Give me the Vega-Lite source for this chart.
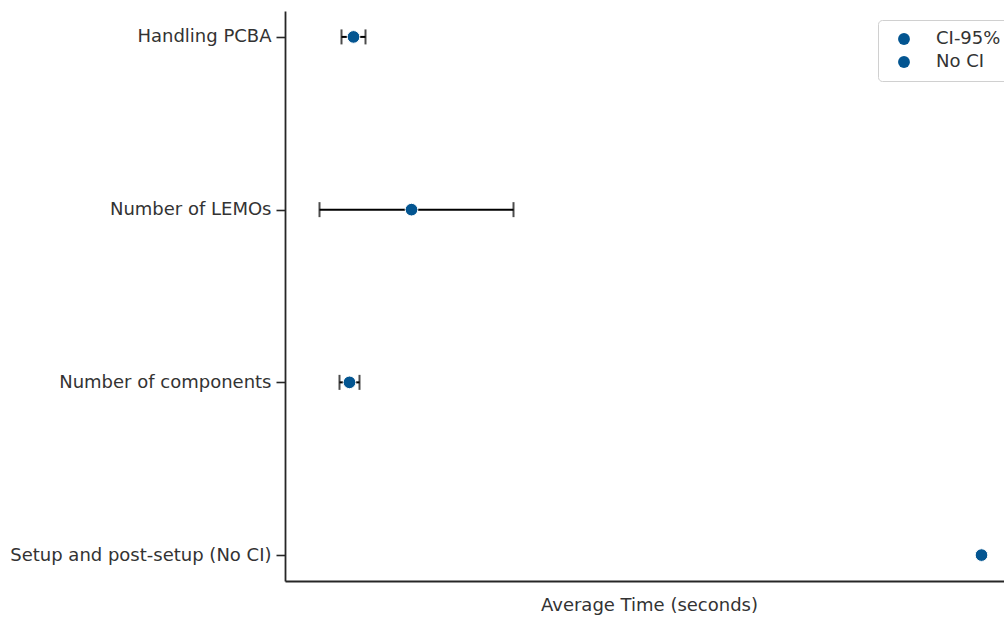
{
  "$schema": "https://vega.github.io/schema/vega-lite/v6.json",
  "autosize": "none",
  "width": 728,
  "height": 570,
  "padding": {"left": 285, "top": 11, "right": 0, "bottom": 36},
  "background": "white",
  "config": {
    "view": {"stroke": null},
    "font": "DejaVu Sans"
  },
  "data": {
    "values": [
      {"factor": "Handling PCBA", "mean": 7.3, "lo": 6.1, "hi": 8.5, "kind": "CI-95%"},
      {"factor": "Number of LEMOs", "mean": 13.1, "lo": 3.9, "hi": 23.3, "kind": "CI-95%"},
      {"factor": "Number of components", "mean": 6.9, "lo": 5.9, "hi": 7.9, "kind": "CI-95%"},
      {"factor": "Setup and post-setup (No CI)", "mean": 70.1, "lo": null, "hi": null, "kind": "No CI"}
    ]
  },
  "encoding": {
    "y": {
      "field": "factor",
      "type": "nominal",
      "sort": null,
      "scale": {"type": "point", "padding": 0.15},
      "axis": {
        "title": null,
        "labelFontSize": 18,
        "labelLimit": 400,
        "labelColor": "#333333",
        "labelPadding": 5,
        "tickSize": 9,
        "tickWidth": 1.6,
        "tickColor": "#262626",
        "domainColor": "#262626",
        "domainWidth": 1.8,
        "grid": false
      }
    }
  },
  "layer": [
    {
      "transform": [{"filter": "datum.lo != null"}],
      "mark": {"type": "rule", "color": "black", "strokeWidth": 2},
      "encoding": {
        "x": {"field": "lo", "type": "quantitative"},
        "x2": {"field": "hi"}
      }
    },
    {
      "transform": [{"filter": "datum.lo != null"}],
      "mark": {"type": "tick", "color": "black", "thickness": 2, "size": 15, "orient": "vertical"},
      "encoding": {
        "x": {"field": "lo", "type": "quantitative"}
      }
    },
    {
      "transform": [{"filter": "datum.hi != null"}],
      "mark": {"type": "tick", "color": "black", "thickness": 2, "size": 15, "orient": "vertical"},
      "encoding": {
        "x": {"field": "hi", "type": "quantitative"}
      }
    },
    {
      "mark": {"type": "point", "shape": "circle", "filled": true, "size": 160, "stroke": "white", "strokeWidth": 1, "opacity": 1},
      "encoding": {
        "x": {
          "field": "mean",
          "type": "quantitative",
          "scale": {"domain": [0.45, 73.25], "nice": false, "zero": false},
          "axis": {
            "title": "Average Time (seconds)",
            "titleFontSize": 18,
            "titleFontWeight": "normal",
            "titleColor": "#333333",
            "titlePadding": 15,
            "titleX": 364,
            "labels": false,
            "ticks": false,
            "grid": false,
            "domainColor": "#262626",
            "domainWidth": 1.8
          }
        },
        "fill": {
          "field": "kind",
          "type": "nominal",
          "scale": {"domain": ["CI-95%", "No CI"], "range": ["#035591", "#035591"]},
          "legend": {
            "title": null,
            "orient": "none",
            "legendX": 593,
            "legendY": 9,
            "padding": 10,
            "fillColor": "white",
            "strokeColor": "#d0d0d0",
            "cornerRadius": 4,
            "symbolType": "circle",
            "symbolSize": 140,
            "symbolStrokeWidth": 0,
            "symbolOffset": 7,
            "labelFontSize": 18,
            "labelColor": "#333333",
            "labelOffset": 23,
            "rowPadding": 5
          }
        }
      }
    }
  ]
}
